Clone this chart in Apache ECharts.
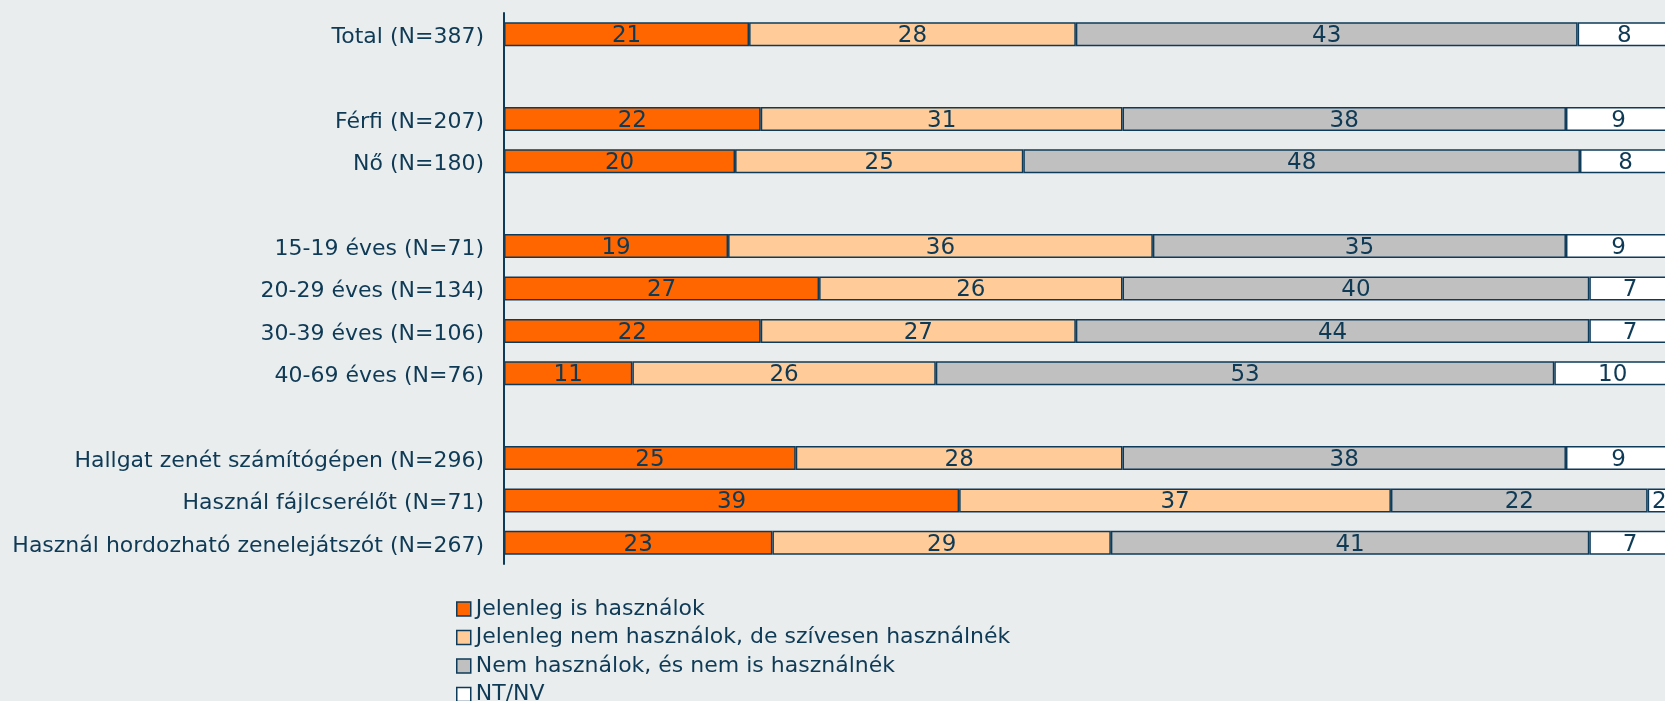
<!DOCTYPE html>
<html>
<head>
<meta charset="utf-8">
<script src="https://cdn.jsdelivr.net/npm/echarts@6/dist/echarts.min.js"></script>
<style>
  html, body { margin: 0; padding: 0; background: #e9edee; }
  #chart { width: 1665px; height: 701px; }
</style>
</head>
<body>
<div id="chart"></div>
<script>
// rows from top to bottom, blank names = spacer rows
const categories = [
  'Total (N=387)', '',
  'Férfi (N=207)', 'Nő (N=180)', ' ',
  '15-19 éves (N=71)', '20-29 éves (N=134)', '30-39 éves (N=106)', '40-69 éves (N=76)', '  ',
  'Hallgat zenét számítógépen (N=296)', 'Használ fájlcserélőt (N=71)', 'Használ hordozható zenelejátszót (N=267)'
]

const seriesNames = [
  'Jelenleg is használok',
  'Jelenleg nem használok, de szívesen használnék',
  'Nem használok, és nem is használnék',
  'NT/NV'
]

const usingNow = [21, null, 22, 19.8, null, 19.2, 27, 22, 11, null, 25, 39, 23]
const wouldUse = [28, null, 31, 24.7, null, 36.4, 26, 27, 26, null, 28, 37, 29]
const wouldNot = [43, null, 38, 47.7, null, 35.4, 40, 44, 53, null, 38, 22, 41]
const noAnswer = [8, null, 9, 7.8, null, 9, 7, 7, 10, null, 9, 2, 7]

const colors = ['#ff6600', '#ffcc99', '#c0c0c0', '#ffffff']
const textColor = '#0f3a55'
const edgeColor = '#0e3b5a'
const font = 'DejaVu Sans, sans-serif'

const chart = echarts.init(document.getElementById('chart'))

const seriesData = [usingNow, wouldUse, wouldNot, noAnswer]

chart.setOption({
  backgroundColor: '#e9edee',
  animation: false,
  grid: {
    left: 504,
    top: 13,
    width: 1167,
    height: 551,
    containLabel: false,
    outerBoundsMode: 'none',
  },
  legend: {
    orient: 'vertical',
    left: 456,
    top: 598,
    height: 120,
    padding: 0,
    itemWidth: 14,
    itemHeight: 14,
    itemGap: 6.5,
    icon: 'rect',
    data: seriesNames,
    itemStyle: { borderColor: edgeColor, borderWidth: 1.5 },
    textStyle: { color: textColor, fontSize: 22, fontFamily: font, lineHeight: 21 },
  },
  xAxis: {
    type: 'value',
    min: 0,
    max: 100,
    show: false,
  },
  yAxis: {
    type: 'category',
    inverse: true,
    data: categories,
    axisLine: { show: true, lineStyle: { color: edgeColor, width: 2 } },
    axisTick: { show: false },
    axisLabel: {
      margin: 20,
      interval: 0,
      formatter: (v) => v.trim() ? `{a|${v}}` : '',
      rich: {
        a: {
          color: textColor,
          fontSize: 22,
          fontFamily: font,
          padding: [6, 0, 0, 0],
        },
      },
    },
  },
  series: seriesNames.map((name, i) => ({
    name,
    type: 'bar',
    stack: 'total',
    barWidth: 24,
    data: seriesData[i],
    itemStyle: {
      color: colors[i],
      borderColor: edgeColor,
      borderWidth: 1.5,
    },
    label: {
      show: true,
      position: 'inside',
      color: textColor,
      fontSize: 23,
      fontFamily: font,
      offset: [0, 2],
      formatter: (p) => p.value == null ? '' : Math.round(p.value),
    },
  })),
})
</script>
</body>
</html>
